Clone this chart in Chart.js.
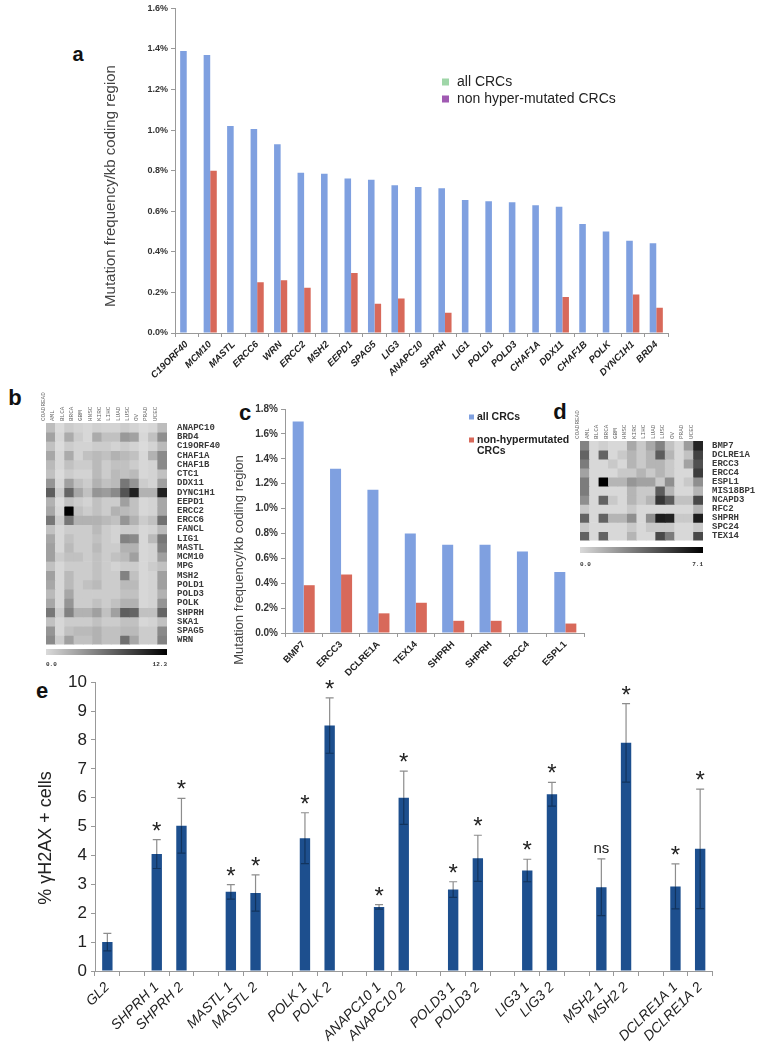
<!DOCTYPE html>
<html>
<head>
<meta charset="utf-8">
<script src="https://cdn.jsdelivr.net/npm/chart.js@4.4.1/dist/chart.umd.min.js"></script>
<style>
  body { margin: 0; width: 764px; height: 1050px; background: #fff; position: relative; overflow: hidden;
         font-family: "Liberation Sans", Arial, sans-serif; }
  canvas { position: absolute; }
  .panel { position: absolute; font-weight: bold; font-size: 22px; line-height: 1; transform: translate(-50%, -50%); color: #111; }
  .cbar { position: absolute; height: 6px; background: linear-gradient(to right, #dadada, #000); }
  .cval { position: absolute; font: bold 6px "Liberation Mono", monospace; color: #333; }
</style>
</head>
<body>
<div class="panel" style="left:78px;top:54px;font-size:20px">a</div>
<div class="panel" style="left:15px;top:398px">b</div>
<div class="panel" style="left:245px;top:413px">c</div>
<div class="panel" style="left:560px;top:412px">d</div>
<div class="panel" style="left:42px;top:691px">e</div>

<canvas id="chartA" width="600" height="420" style="left:90px;top:0"></canvas>
<canvas id="chartB" width="200" height="280" style="left:40px;top:380px"></canvas>
<canvas id="chartC" width="380" height="300" style="left:230px;top:395px"></canvas>
<canvas id="chartD" width="190" height="160" style="left:574px;top:395px"></canvas>
<canvas id="chartE" width="764" height="382" style="left:0;top:668px"></canvas>

<div class="cbar" style="left:46px;top:649px;width:121px"></div>
<div class="cval" style="left:46px;top:661px">0.0</div>
<div class="cval" style="left:150px;top:661px;width:17px;text-align:right">12.3</div>
<div class="cbar" style="left:580px;top:547px;width:123px"></div>
<div class="cval" style="left:580px;top:561px">0.0</div>
<div class="cval" style="left:686px;top:561px;width:17px;text-align:right">7.1</div>

<script>
// ---- panel a ----
const genesA = ['C19ORF40', 'MCM10', 'MASTL', 'ERCC6', 'WRN', 'ERCC2', 'MSH2', 'EEPD1', 'SPAG5', 'LIG3', 'ANAPC10',
  'SHPRH', 'LIG1', 'POLD1', 'POLD3', 'CHAF1A', 'DDX11', 'CHAF1B', 'POLK', 'DYNC1H1', 'BRD4'];
const allCrcA = [1.39, 1.37, 1.02, 1.005, 0.93, 0.79, 0.785, 0.762, 0.755, 0.728, 0.72, 0.713, 0.655, 0.65, 0.644,
  0.63, 0.622, 0.537, 0.5, 0.455, 0.443];
const nonHypA = [0, 0.80, 0, 0.25, 0.26, 0.223, 0, 0.296, 0.144, 0.17, 0, 0.1, 0, 0, 0, 0, 0.177, 0, 0, 0.19, 0.125];
const ticksA = [0, 0.2, 0.4, 0.6, 0.8, 1.0, 1.2, 1.4, 1.6];

// ---- panel c ----
const genesC = ['BMP7', 'ERCC3', 'DCLRE1A', 'TEX14', 'SHPRH', 'SHPRH', 'ERCC4', 'ESPL1'];
const allCrcC = [1.70, 1.32, 1.152, 0.80, 0.71, 0.71, 0.655, 0.49];
const nonHypC = [0.384, 0.47, 0.158, 0.243, 0.098, 0.098, 0, 0.076];

// ---- panel b heatmap ----
const cancers = ['COADREAD', 'AML', 'BLCA', 'BRCA', 'GBM', 'HNSC', 'KIRC', 'LIHC', 'LUAD', 'LUSC', 'OV', 'PRAD', 'UCEC'];
const genesB = ['ANAPC10', 'BRD4', 'C19ORF40', 'CHAF1A', 'CHAF1B', 'CTC1', 'DDX11', 'DYNC1H1', 'EEPD1', 'ERCC2',
  'ERCC6', 'FANCL', 'LIG1', 'MASTL', 'MCM10', 'MPG', 'MSH2', 'POLD1', 'POLD3', 'POLK', 'SHPRH', 'SKA1', 'SPAG5', 'WRN'];
const heatB = [
  [2.0, 0.4, 1.2, 0.8, 0.6, 1.0, 0.8, 0.8, 1.2, 0.8, 0.4, 0.6, 2.0],
  [3.5, 0.6, 3.0, 1.2, 0.6, 3.0, 1.8, 1.8, 4.0, 3.5, 0.6, 1.8, 4.5],
  [1.8, 0.4, 1.2, 0.8, 0.8, 1.2, 1.2, 0.8, 1.2, 0.8, 0.4, 0.8, 2.2],
  [3.2, 0.6, 3.0, 0.8, 1.8, 2.2, 1.8, 2.6, 2.2, 1.8, 0.6, 2.6, 4.8],
  [2.2, 0.6, 1.8, 1.2, 1.2, 2.2, 1.2, 1.8, 1.8, 1.2, 0.6, 0.8, 4.8],
  [1.8, 0.4, 1.2, 0.8, 0.8, 2.2, 1.2, 2.2, 1.8, 2.2, 0.6, 0.8, 1.8],
  [4.2, 0.6, 3.6, 1.8, 1.2, 2.6, 1.8, 2.2, 5.8, 4.2, 1.2, 0.8, 3.6],
  [7.2, 1.2, 6.8, 3.2, 1.8, 4.2, 3.8, 4.8, 7.8, 10.5, 2.6, 2.6, 10.5],
  [2.6, 0.4, 1.8, 1.2, 0.8, 1.8, 1.2, 1.2, 3.6, 1.8, 0.6, 0.8, 3.2],
  [3.2, 0.6, 12.3, 1.8, 1.2, 1.8, 1.2, 2.6, 2.2, 1.8, 0.6, 0.8, 3.2],
  [5.8, 1.2, 5.8, 2.6, 2.6, 2.6, 2.2, 1.8, 4.2, 2.6, 1.2, 1.8, 6.2],
  [1.8, 0.6, 1.2, 1.2, 1.2, 2.2, 1.2, 0.8, 1.2, 1.2, 0.6, 0.8, 2.2],
  [3.2, 0.6, 1.8, 1.2, 1.2, 1.8, 1.2, 0.8, 5.2, 4.8, 0.6, 2.2, 5.8],
  [3.6, 0.6, 2.2, 1.2, 1.2, 2.2, 1.2, 1.2, 2.6, 2.6, 0.6, 0.8, 5.2],
  [3.6, 1.2, 1.8, 1.8, 1.2, 1.8, 1.2, 1.8, 2.2, 3.6, 0.6, 0.8, 3.6],
  [1.8, 0.6, 1.2, 1.2, 1.2, 1.8, 1.2, 0.8, 1.2, 1.2, 0.6, 1.2, 1.8],
  [3.6, 0.6, 2.2, 1.2, 1.2, 1.8, 1.2, 1.2, 5.2, 1.8, 0.6, 0.8, 3.6],
  [3.2, 0.6, 2.2, 1.2, 1.8, 2.2, 1.2, 1.2, 2.2, 2.2, 0.6, 0.8, 3.6],
  [2.2, 0.6, 3.2, 1.2, 1.2, 1.2, 1.2, 1.2, 1.8, 1.8, 0.6, 0.8, 2.6],
  [3.2, 0.6, 4.2, 1.2, 1.2, 1.8, 1.2, 1.8, 2.6, 2.6, 0.6, 0.8, 4.2],
  [5.8, 1.2, 5.2, 2.6, 2.6, 3.6, 1.8, 3.6, 7.2, 6.8, 1.8, 1.8, 6.8],
  [1.8, 0.6, 1.2, 1.2, 1.2, 1.8, 1.2, 1.2, 1.8, 1.8, 0.6, 0.8, 1.8],
  [4.2, 0.6, 1.8, 2.2, 2.2, 2.6, 1.8, 1.8, 2.2, 2.2, 1.2, 1.2, 4.8],
  [4.8, 1.2, 3.6, 1.8, 1.8, 2.6, 1.8, 1.8, 6.2, 3.2, 1.2, 1.2, 5.2]
];
const maxB = 12.3;

// ---- panel d heatmap ----
const genesD = ['BMP7', 'DCLRE1A', 'ERCC3', 'ERCC4', 'ESPL1', 'MIS18BP1', 'NCAPD3', 'RFC2', 'SHPRH', 'SPC24', 'TEX14'];
const heatD = [
  [3.0, 0.3, 0.6, 0.3, 0.3, 1.8, 0.8, 1.8, 3.0, 1.0, 0.3, 2.2, 6.0],
  [4.0, 0.3, 4.0, 0.3, 0.8, 1.4, 0.8, 1.4, 4.2, 1.4, 0.3, 1.0, 5.0],
  [3.2, 0.3, 0.3, 0.8, 0.3, 1.4, 0.8, 1.4, 1.4, 0.8, 0.3, 2.0, 4.6],
  [2.0, 0.3, 0.3, 0.3, 0.8, 0.8, 1.4, 0.8, 1.4, 0.8, 0.3, 0.3, 5.2],
  [3.2, 0.3, 7.1, 1.4, 1.4, 2.4, 2.0, 2.0, 0.8, 2.6, 0.3, 0.8, 2.6],
  [3.2, 0.3, 0.3, 0.3, 0.3, 1.4, 0.8, 0.8, 4.2, 1.4, 0.3, 0.3, 1.4],
  [2.6, 0.3, 4.0, 0.8, 0.3, 1.4, 0.8, 1.4, 5.4, 4.2, 1.0, 1.0, 4.8],
  [0.8, 0.3, 0.3, 0.3, 0.3, 0.8, 0.3, 0.3, 0.3, 0.3, 0.3, 0.3, 1.4],
  [4.0, 0.3, 4.0, 1.4, 1.4, 2.6, 0.3, 2.6, 6.2, 6.0, 0.8, 0.8, 6.2],
  [0.8, 0.3, 0.3, 0.3, 0.3, 0.8, 0.3, 0.8, 0.8, 0.8, 0.3, 0.3, 0.8],
  [4.0, 0.3, 4.0, 0.3, 0.3, 1.4, 0.3, 0.3, 4.8, 3.2, 0.3, 0.3, 4.8]
];
const maxD = 7.1;

// ---- panel e ----
const knockdowns = ['GL2', '', 'SHPRH 1', 'SHPRH 2', '', 'MASTL 1', 'MASTL 2', '', 'POLK 1', 'POLK 2', '',
  'ANAPC10 1', 'ANAPC10 2', '', 'POLD3 1', 'POLD3 2', '', 'LIG3 1', 'LIG3 2', '', 'MSH2 1', 'MSH2 2', '',
  'DCLRE1A 1', 'DCLRE1A 2'];
const h2axPct = [1.0, null, 4.05, 5.03, null, 2.74, 2.70, null, 4.6, 8.5, null, 2.22, 6.0, null, 2.82, 3.9, null,
  3.48, 6.12, null, 2.9, 7.9, null, 2.93, 4.23];
const h2axErr = [0.3, null, 0.5, 0.95, null, 0.25, 0.63, null, 0.88, 0.96, null, 0.08, 0.92, null, 0.27, 0.8, null,
  0.39, 0.41, null, 0.98, 1.36, null, 0.78, 2.07];
const signif = ['', '', '*', '*', '', '*', '*', '', '*', '*', '', '*', '*', '', '*', '*', '', '*', '*', '', 'ns', '*', '',
  '*', '*'];

Chart.defaults.font.family = '"Liberation Sans", Arial, sans-serif';
Chart.defaults.animation = false;
Chart.defaults.plugins.tooltip.enabled = false;
Chart.defaults.plugins.legend.display = false;

const BLUE = '#7fa0e0', RED = '#d8695a', NAVY = '#1d4f8e';

// rotated y-axis title at a fixed spot
const sideTitle = {
  id: 'sideTitle',
  afterDraw(chart, args, o) {
    if (!o.text) return;
    const c = chart.ctx;
    c.save();
    c.translate(o.x, o.y);
    c.rotate(-Math.PI / 2);
    c.font = o.font;
    c.fillStyle = o.color || '#333';
    c.textAlign = 'center';
    c.textBaseline = 'middle';
    c.fillText(o.text, 0, 0);
    c.restore();
  }
};

// small legend drawn from the dataset labels
const keyBox = {
  id: 'keyBox',
  afterDraw(chart, args, o) {
    if (o.x == null) return;
    const c = chart.ctx;
    c.save();
    c.font = o.font;
    c.fillStyle = '#222';
    c.textBaseline = 'middle';
    chart.data.datasets.forEach((ds, i) => {
      const y = o.y + i * o.gap;
      c.fillStyle = o.colors ? o.colors[i] : ds.backgroundColor;
      c.fillRect(o.x, y - o.box / 2, o.box, o.box);
      c.fillStyle = '#222';
      ds.label.split('\n').forEach((line, j) => c.fillText(line, o.x + o.box + o.pad, y + j * o.lineH));
    });
    c.restore();
  }
};

// error bars + significance marks for panel e
const errBars = {
  id: 'errBars',
  afterDatasetsDraw(chart, args, o) {
    if (!o.errors) return;
    const c = chart.ctx, ys = chart.scales.y;
    const vals = chart.data.datasets[0].data;
    chart.getDatasetMeta(0).data.forEach((bar, i) => {
      if (vals[i] == null) return;
      const x = bar.x;
      const yv = ys.getPixelForValue(vals[i]);
      const yt = ys.getPixelForValue(vals[i] + o.errors[i]);
      const yb = ys.getPixelForValue(vals[i] - o.errors[i]);
      c.save();
      c.lineWidth = 1.2;
      c.strokeStyle = '#8d8d8d';
      c.beginPath();
      c.moveTo(x, yv); c.lineTo(x, yt);
      c.moveTo(x - 4, yt); c.lineTo(x + 4, yt);
      c.stroke();
      c.strokeStyle = '#12345e';
      c.beginPath();
      c.moveTo(x, yv); c.lineTo(x, yb);
      c.moveTo(x - 4, yb); c.lineTo(x + 4, yb);
      c.stroke();
      const m = o.marks[i];
      if (m) {
        c.fillStyle = '#222';
        c.textAlign = 'center';
        c.textBaseline = 'alphabetic';
        if (m === '*') {
          c.font = '24px "Liberation Sans", Arial, sans-serif';
          c.fillText(m, x, yt - 1);
        } else {
          c.font = '15px "Liberation Sans", Arial, sans-serif';
          c.fillText(m, x, yt - 6);
        }
      }
      c.restore();
    });
  }
};

Chart.register(sideTitle, keyBox, errBars);

const pct = v => v.toFixed(1) + '%';

// panel a
new Chart(document.getElementById('chartA'), {
  type: 'bar',
  data: {
    labels: genesA,
    datasets: [
      { label: 'all CRCs', data: allCrcA, backgroundColor: BLUE },
      { label: 'non hyper-mutated CRCs', data: nonHypA, backgroundColor: RED }
    ]
  },
  options: {
    responsive: false,
    layout: { padding: { top: 6, right: 22, left: 0, bottom: 0 } },
    datasets: { bar: { categoryPercentage: 0.56, barPercentage: 1.0 } },
    scales: {
      x: {
        afterFit: s => { s.height = 87; },
        grid: { drawOnChartArea: false, tickLength: 4, color: '#999' },
        border: { color: '#999' },
        ticks: { autoSkip: false, minRotation: 45, maxRotation: 45, padding: 2, color: '#222',
                 font: { size: 9.5, weight: 'bold', style: 'italic' } }
      },
      y: {
        min: 0, max: 1.6,
        afterFit: s => { s.width = 85; },
        afterBuildTicks: s => { s.ticks = ticksA.map(v => ({ value: v })); },
        grid: { drawOnChartArea: false, tickLength: 4, color: '#999' },
        border: { color: '#999' },
        ticks: { callback: pct, padding: 3, color: '#333', font: { size: 9, weight: 'bold' } }
      }
    },
    plugins: {
      sideTitle: { text: 'Mutation frequency/kb coding region', x: 21, y: 186,
                   font: '15px "Liberation Sans", Arial, sans-serif', color: '#444' },
      keyBox: { x: 352, y: 82, gap: 17, box: 7, pad: 8, lineH: 0, colors: ['#9fd6a8', '#a05ab2'],
                font: '14px "Liberation Sans", Arial, sans-serif' }
    }
  }
});

// panel c
new Chart(document.getElementById('chartC'), {
  type: 'bar',
  data: {
    labels: genesC,
    datasets: [
      { label: 'all CRCs', data: allCrcC, backgroundColor: BLUE },
      { label: 'non-hypermutated\nCRCs', data: nonHypC, backgroundColor: RED }
    ]
  },
  options: {
    responsive: false,
    layout: { padding: { top: 14, right: 26, left: 0, bottom: 0 } },
    datasets: { bar: { categoryPercentage: 0.59, barPercentage: 1.0 } },
    scales: {
      x: {
        afterFit: s => { s.height = 62; },
        grid: { drawOnChartArea: false, tickLength: 4, color: '#999' },
        border: { color: '#999' },
        ticks: { autoSkip: false, minRotation: 45, maxRotation: 45, padding: 2, color: '#222',
                 font: { size: 9.5, weight: 'bold' } }
      },
      y: {
        min: 0, max: 1.8,
        afterFit: s => { s.width = 55; },
        ticks: { stepSize: 0.2, callback: pct, padding: 3, color: '#333', font: { size: 10, weight: 'bold' } },
        grid: { drawOnChartArea: false, tickLength: 4, color: '#999' },
        border: { color: '#999' }
      }
    },
    plugins: {
      sideTitle: { text: 'Mutation frequency/kb coding region', x: 9, y: 165,
                   font: '13px "Liberation Sans", Arial, sans-serif', color: '#444' },
      keyBox: { x: 239, y: 22, gap: 23, box: 5, pad: 3, lineH: 11,
                font: 'bold 10.5px "Liberation Sans", Arial, sans-serif' }
    }
  }
});

// heatmaps: one floating-bar dataset per gene row
const shade = (v, max) => {
  const g = Math.max(0, Math.round(226 * (1 - v / max)));
  return `rgb(${g}, ${g}, ${g})`;
};

function heatmap(id, genes, grid, max, sizes) {
  return new Chart(document.getElementById(id), {
    type: 'bar',
    data: {
      labels: cancers,
      datasets: genes.map((g, r) => ({
        label: g,
        data: cancers.map(() => [r, r + 1]),
        backgroundColor: grid[r].map(v => shade(v, max)),
        borderWidth: 0
      }))
    },
    options: {
      responsive: false,
      layout: { padding: { left: sizes.left, bottom: sizes.bottom, top: 0, right: 0 } },
      datasets: { bar: { categoryPercentage: 1, barPercentage: 1, grouped: false } },
      scales: {
        x: {
          position: 'top',
          afterFit: s => { s.height = sizes.top; },
          grid: { display: false, tickLength: 0 },
          border: { display: false },
          ticks: { autoSkip: false, minRotation: 90, maxRotation: 90, padding: 2, color: '#666',
                   font: { family: '"Liberation Mono", monospace', size: 6 } }
        },
        y: {
          type: 'linear', position: 'right', reverse: true, min: 0, max: genes.length,
          afterFit: s => { s.width = sizes.right; },
          afterBuildTicks: s => { s.ticks = genes.map((g, i) => ({ value: i + 0.5 })); },
          grid: { display: false, tickLength: 0 },
          border: { display: false },
          ticks: { autoSkip: false, padding: sizes.pad, color: '#3a3a3a', callback: (v, i) => genes[i],
                   font: { family: '"Liberation Mono", monospace', size: 9, weight: 'bold' } }
        }
      }
    }
  });
}

heatmap('chartB', genesB, heatB, maxB, { left: 6, bottom: 13, top: 43, right: 73, pad: 10 });
heatmap('chartD', genesD, heatD, maxD, { left: 6, bottom: 12, top: 46, right: 61, pad: 9 });

// panel e
new Chart(document.getElementById('chartE'), {
  type: 'bar',
  data: {
    labels: knockdowns,
    datasets: [{ label: '% γH2AX + cells', data: h2axPct, backgroundColor: NAVY }]
  },
  options: {
    responsive: false,
    layout: { padding: { top: 13.7, right: 51.5, left: 0, bottom: 0 } },
    datasets: { bar: { categoryPercentage: 1, barPercentage: 0.42 } },
    scales: {
      x: {
        afterFit: s => { s.height = 79; },
        grid: { drawOnChartArea: false, tickLength: 5, color: '#999' },
        border: { color: '#999' },
        ticks: { autoSkip: false, minRotation: 45, maxRotation: 45, padding: 3, color: '#222',
                 font: { size: 14, style: 'italic' } }
      },
      y: {
        min: 0, max: 10,
        afterFit: s => { s.width = 95; },
        ticks: { stepSize: 1, padding: 4, color: '#222', font: { size: 17 } },
        grid: { drawOnChartArea: false, tickLength: 4, color: '#999' },
        border: { color: '#999' }
      }
    },
    plugins: {
      sideTitle: { text: '% γH2AX + cells', x: 46, y: 170,
                   font: '18px "Liberation Sans", Arial, sans-serif', color: '#222' },
      errBars: { errors: h2axErr, marks: signif }
    }
  }
});
</script>
</body>
</html>
